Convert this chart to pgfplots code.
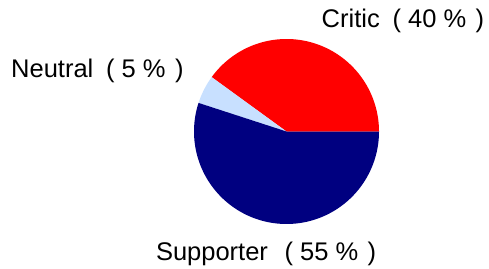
\documentclass[border=0pt]{standalone}
\usepackage{pgfplots}
\pgfplotsset{compat=1.18}
\usepackage{pgfplotstable}
\usepackage{fontspec}
\setmainfont{Liberation Sans}
\definecolor{critic}{RGB}{255,0,0}
\definecolor{neutral}{RGB}{200,224,255}
\definecolor{supp}{RGB}{0,0,128}
\pgfplotstableread{
label share
Critic 40
Neutral 5
Supporter 55
}\piedata
\begin{document}
\begin{tikzpicture}
\pgfplotstablegetelem{0}{share}\of\piedata \let\sA\pgfplotsretval
\pgfplotstablegetelem{1}{share}\of\piedata \let\sB\pgfplotsretval
\pgfplotstablegetelem{2}{share}\of\piedata \let\sC\pgfplotsretval
\pgfmathsetmacro{\aA}{\sA*3.6}
\pgfmathsetmacro{\aB}{\aA+\sB*3.6}
\pgfmathsetmacro{\aC}{\aB+\sC*3.6}
\def\cx{286.5}\def\cy{136.5}\def\R{92.5}
\begin{axis}[width=489pt,height=268pt,scale only axis,
  xmin=0,xmax=489,ymin=0,ymax=268,hide axis,clip=false]
\addplot[draw=none,fill=critic,domain=0:\aA,samples=150,variable=\t]
  ({\cx+\R*cos(t)},{\cy+\R*sin(t)}) -- (axis cs:\cx,\cy) -- cycle;
\addplot[draw=none,fill=neutral,domain=\aA:\aB,samples=30,variable=\t]
  ({\cx+\R*cos(t)},{\cy+\R*sin(t)}) -- (axis cs:\cx,\cy) -- cycle;
\addplot[draw=none,fill=supp,domain=\aB:\aC,samples=200,variable=\t]
  ({\cx+\R*cos(t)},{\cy+\R*sin(t)}) -- (axis cs:\cx,\cy) -- cycle;
\path (axis cs:0,0) (axis cs:489,268);
\node[anchor=base west,inner sep=0pt,font=\fontsize{25.5}{30}\selectfont]
  at (axis cs:321.5,240) {Critic\hspace{0.5em}( 40 \%\hspace{0.37em})};
\node[anchor=base west,inner sep=0pt,font=\fontsize{25.5}{30}\selectfont]
  at (axis cs:11,190.3) {Neutral\hspace{0.5em}( 5 \%\hspace{0.37em})};
\node[anchor=base west,inner sep=0pt,font=\fontsize{25.5}{30}\selectfont]
  at (axis cs:155.8,7.5) {Supporter\hspace{0.65em}( 55 \%\hspace{0.37em})};
\end{axis}
\end{tikzpicture}
\end{document}
